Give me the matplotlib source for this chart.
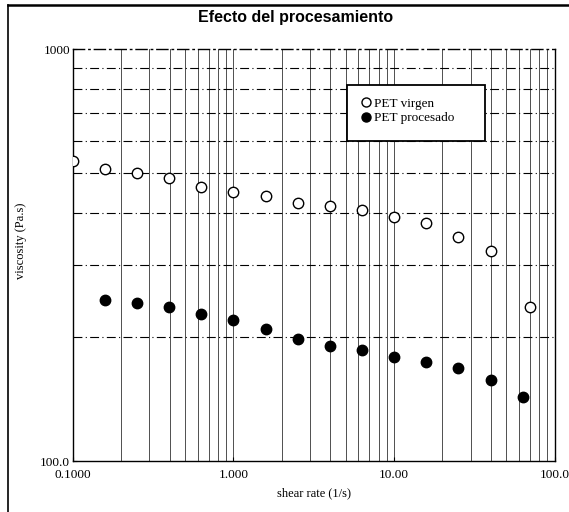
import matplotlib.pyplot as plt
from matplotlib.lines import Line2D
from matplotlib.patches import Rectangle
from matplotlib.ticker import FixedLocator, FixedFormatter, NullFormatter

# shear rate (1/s) and viscosity (Pa.s)
rate_virgen = [0.1, 0.158, 0.251, 0.398, 0.631, 1.0, 1.585, 2.512, 3.981, 6.31, 10.0, 15.85, 25.12, 39.81, 70.0]
visc_virgen = [536, 512, 499, 487, 462, 449, 440, 423, 416, 407, 392, 378, 350, 324, 236]

rate_proc = [0.158, 0.251, 0.398, 0.631, 1.0, 1.585, 2.512, 3.981, 6.31, 10.0, 15.85, 25.12, 39.81, 63.1]
visc_proc = [246, 242, 236, 228, 220, 209, 198, 190, 186, 179, 174, 168, 157, 143]

x_ticks = [0.1, 1, 10, 100]
x_labels = ['0.1000', '1.000', '10.00', '100.0']
y_ticks = [100, 1000]
y_labels = ['100.0', '1000']

serif = 'Liberation Serif'

fig = plt.figure(figsize=(5.69, 5.12), dpi=100)
ax = fig.add_axes([0.128, 0.0996, 0.847, 0.8044])

ax.set_xscale('log')
ax.set_yscale('log')
ax.set_xlim(0.1, 100)
ax.set_ylim(100, 1000)

# grid: solid verticals, dash-dot horizontals
minor_x = [m * d for d in (0.1, 1, 10) for m in range(2, 10)] + [1, 10]
minor_y = [m * 100 for m in range(2, 10)]
for xv in minor_x:
    ax.axvline(xv, color='#333333', lw=0.6, zorder=1)
for yv in minor_y:
    ax.axhline(yv, color='black', lw=0.8, ls=(0, (8, 3, 1, 3)), zorder=1)

ax.xaxis.set_major_locator(FixedLocator(x_ticks))
ax.xaxis.set_major_formatter(FixedFormatter(x_labels))
ax.yaxis.set_major_locator(FixedLocator(y_ticks))
ax.yaxis.set_major_formatter(FixedFormatter(y_labels))
ax.xaxis.set_minor_formatter(NullFormatter())
ax.yaxis.set_minor_formatter(NullFormatter())
ax.tick_params(which='minor', length=0)
ax.tick_params(which='major', length=3, direction='in')
ax.tick_params(axis='x', pad=6)
ax.tick_params(axis='y', pad=2)
for lab in ax.get_xticklabels() + ax.get_yticklabels():
    lab.set_fontfamily(serif)
    lab.set_fontsize(9.5)

for s in ax.spines.values():
    s.set_linewidth(1.0)
ax.spines['top'].set_linestyle((0, (8, 3, 1, 3)))

ax.plot(rate_virgen, visc_virgen, 'o', ms=7.5, mfc='white', mec='black', mew=1.0, zorder=3)
ax.plot(rate_proc, visc_proc, 'o', ms=7.5, mfc='black', mec='black', zorder=3)

ax.set_xlabel('shear rate (1/s)', family=serif, fontsize=9)
ax.xaxis.set_label_coords(0.5, -0.065)
ax.set_ylabel('viscosity (Pa.s)', family=serif, fontsize=9)
ax.yaxis.set_label_coords(-0.095, 0.535)

# legend box
ax.add_patch(Rectangle((0.568, 0.777), 0.287, 0.136, transform=ax.transAxes,
                       facecolor='white', edgecolor='black', lw=1.3, zorder=4))
handles = [
    Line2D([], [], ls='none', marker='o', ms=6.5, mfc='white', mec='black', mew=1.0),
    Line2D([], [], ls='none', marker='o', ms=6.5, mfc='black', mec='black'),
]
leg = ax.legend(handles, ['PET virgen', 'PET procesado'], loc='upper left',
                bbox_to_anchor=(0.59, 0.895), frameon=False, handlelength=0.6,
                handletextpad=0.25, labelspacing=0.15, borderaxespad=0,
                prop={'family': serif, 'size': 9.5})
leg.set_zorder(5)

fig.text(0.52, 0.966, 'Efecto del procesamiento', ha='center', va='center',
         fontsize=11.5, fontweight='bold', family='Liberation Sans')

# outer frame on the left and top
fig.add_artist(Line2D([0.014, 0.014], [0.0, 0.99], color='black', lw=1.2))
fig.add_artist(Line2D([0.014, 1.0], [0.99, 0.99], color='black', lw=1.8))

fig.savefig('out.png', dpi=100)
